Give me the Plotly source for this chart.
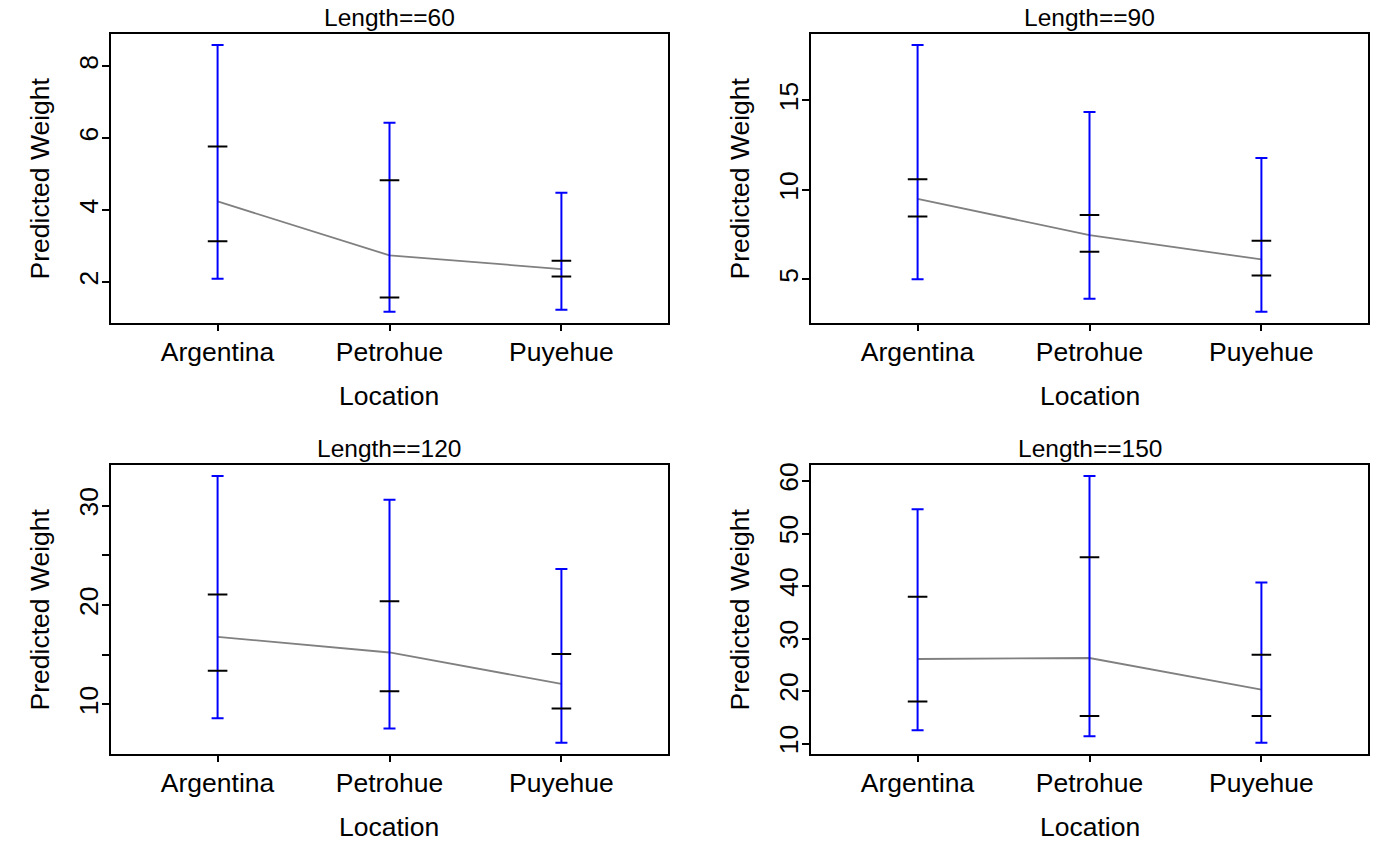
import plotly.graph_objects as go

locations = ["Argentina", "Petrohue", "Puyehue"]
lengths = [60, 90, 120, 150]

fit_60 = [4.24, 2.74, 2.36]
lo_60 = [2.09, 1.17, 1.23]
hi_60 = [8.59, 6.43, 4.48]
inlo_60 = [3.13, 1.57, 2.15]
inhi_60 = [5.77, 4.83, 2.59]

fit_90 = [9.50, 7.47, 6.11]
lo_90 = [5.00, 3.91, 3.18]
hi_90 = [18.10, 14.35, 11.78]
inlo_90 = [8.51, 6.54, 5.21]
inhi_90 = [10.60, 8.59, 7.16]

fit_120 = [16.80, 15.23, 12.07]
lo_120 = [8.60, 7.57, 6.13]
hi_120 = [33.00, 30.60, 23.63]
inlo_120 = [13.40, 11.33, 9.60]
inhi_120 = [21.07, 20.40, 15.07]

fit_150 = [26.10, 26.29, 20.28]
lo_150 = [12.53, 11.39, 10.13]
hi_150 = [54.64, 60.95, 40.68]
inlo_150 = [18.00, 15.24, 15.24]
inhi_150 = [37.97, 45.47, 26.92]

ytick_vals = [[2, 4, 6, 8], [5, 10, 15], [10, 15, 20, 25, 30], [10, 20, 30, 40, 50, 60]]
ytick_text = [["2", "4", "6", "8"], ["5", "10", "15"], ["10", "", "20", "", "30"],
              ["10", "20", "30", "40", "50", "60"]]

panels = [
    (fit_60, lo_60, hi_60, inlo_60, inhi_60),
    (fit_90, lo_90, hi_90, inlo_90, inhi_90),
    (fit_120, lo_120, hi_120, inlo_120, inhi_120),
    (fit_150, lo_150, hi_150, inlo_150, inhi_150),
]

W, H = 1400, 866
FONT = "Liberation Sans, Arial, Helvetica, sans-serif"
# box positions in pixels (left, right, top, bottom)
boxes = [(111, 668, 31.5, 321), (811, 1368, 31.5, 321),
         (111, 668, 464.5, 754), (811, 1368, 464.5, 754)]

fig = go.Figure()
xpos = [1, 2, 3]
annotations = []
for i, (fit, lo, hi, ilo, ihi) in enumerate(panels):
    k = "" if i == 0 else str(i + 1)
    xa, ya = "x" + k, "y" + k
    # fitted line
    fig.add_trace(go.Scatter(
        x=xpos, y=fit, mode="lines", line=dict(color="#808080", width=1.8),
        xaxis=xa, yaxis=ya, showlegend=False))
    # outer interval (blue)
    fig.add_trace(go.Scatter(
        x=xpos, y=fit, mode="markers", marker=dict(size=1, opacity=0),
        error_y=dict(type="data", symmetric=False,
                     array=[h - f for h, f in zip(hi, fit)],
                     arrayminus=[f - l for f, l in zip(fit, lo)],
                     color="blue", thickness=2, width=6),
        xaxis=xa, yaxis=ya, showlegend=False, hoverinfo="skip"))
    # inner interval (black caps)
    fig.add_trace(go.Scatter(
        x=xpos * 2, y=list(ilo) + list(ihi), mode="markers",
        marker=dict(symbol="line-ew", size=14, line=dict(color="black", width=2)),
        xaxis=xa, yaxis=ya, showlegend=False, hoverinfo="skip"))

    ymin, ymax = min(lo), max(hi)
    pad = 0.04 * (ymax - ymin)
    l, r, t, b = boxes[i]
    common = dict(showline=True, mirror=True, linecolor="black", linewidth=1.5,
                  ticks="outside", ticklen=7, tickwidth=1.5, tickcolor="black",
                  showgrid=False, zeroline=False,
                  tickfont=dict(family=FONT, size=26.5, color="black"))
    fig.update_layout(**{
        ("xaxis" + k): dict(domain=[l / W, r / W], range=[0.38, 3.62],
                            tickvals=xpos, ticktext=locations, anchor=ya,
                            ticklabelstandoff=-2, **common),
        ("yaxis" + k): dict(domain=[1 - b / H, 1 - t / H], range=[ymin - pad, ymax + pad],
                            tickvals=ytick_vals[i], ticktext=ytick_text[i], anchor=xa,
                            tickangle=-90, ticklabelstandoff=-6, **common),
    })
    cx = (l + r) / 2
    annotations.append(dict(text=f"Length=={lengths[i]}", x=cx / W, y=1 - t / H,
                            xref="paper", yref="paper", xanchor="center", yanchor="bottom",
                            showarrow=False, yshift=1,
                            font=dict(family=FONT, size=24.5, color="black")))
    annotations.append(dict(text="Location", x=cx / W, y=1 - (b + 74) / H,
                            xref="paper", yref="paper", xanchor="center", yanchor="middle",
                            showarrow=False, font=dict(family=FONT, size=26.5, color="black")))
    annotations.append(dict(text="Predicted Weight", x=(l - 71) / W, y=1 - (t + b) / 2 / H,
                            xref="paper", yref="paper", xanchor="center", yanchor="middle",
                            textangle=-90, showarrow=False,
                            font=dict(family=FONT, size=26.5, color="black")))

fig.update_layout(width=W, height=H, margin=dict(l=0, r=0, t=0, b=0),
                  paper_bgcolor="white", plot_bgcolor="white",
                  annotations=annotations, font=dict(family=FONT, color="black"))
fig.write_html("out.html", config={"displayModeBar": False},
               post_script="document.body.style.margin='0';")
